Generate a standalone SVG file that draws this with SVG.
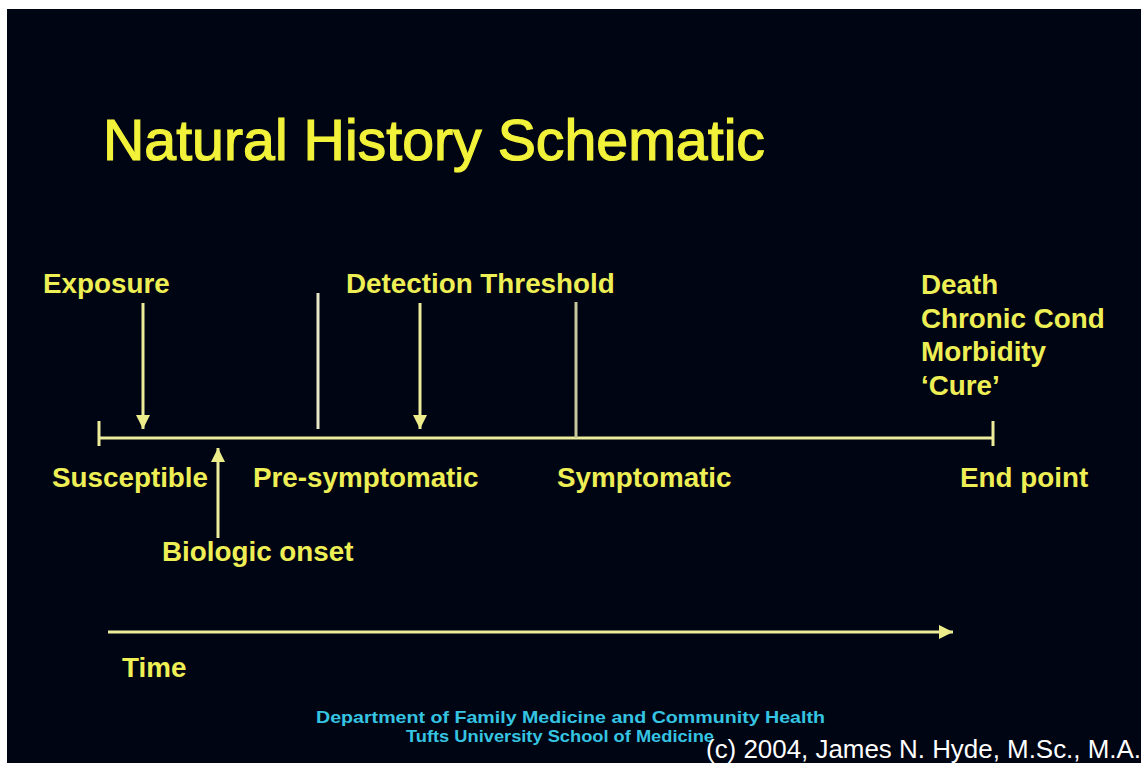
<svg xmlns="http://www.w3.org/2000/svg" width="1141" height="763" viewBox="0 0 1141 763">
<style>
.bg{fill:#000514}
.lbl{font-family:"Liberation Sans",Arial,sans-serif;font-weight:bold;font-size:27.8px;fill:#eeee55}
.title{font-family:"Liberation Sans",Arial,sans-serif;font-size:57px;fill:#f2f23a;stroke:#f2f23a;stroke-width:1.2}
.ln{stroke:#ecec9a;stroke-width:3;fill:none}
.foot{font-family:"Liberation Sans",Arial,sans-serif;font-weight:bold;font-size:17px;fill:#35c4e2}
.copy{font-family:"Liberation Sans",Arial,sans-serif;font-size:26px;fill:#ffffff}
</style>
<defs>
<marker id="ah" markerUnits="userSpaceOnUse" markerWidth="16" markerHeight="16" refX="14" refY="7" orient="auto">
<path d="M0,0 L14,7 L0,14 Z" fill="#ecec8a"/>
</marker>
</defs>
<rect width="1141" height="763" fill="#ffffff"/>
<rect class="bg" x="7" y="9" width="1134" height="754"/>
<g id="title"><text class="title" x="103" y="160" textLength="662" lengthAdjust="spacingAndGlyphs">Natural History Schematic</text></g>
<g id="connectors">
<line class="ln" x1="99" y1="438" x2="993" y2="438"/>
<line class="ln" x1="99" y1="421" x2="99" y2="446"/>
<line class="ln" x1="993" y1="421" x2="993" y2="446"/>
<line class="ln" x1="143" y1="303" x2="143" y2="429" marker-end="url(#ah)"/>
<line class="ln" x1="318" y1="293" x2="318" y2="429" style="stroke:#e8e8c8"/>
<line class="ln" x1="420" y1="303" x2="420" y2="429" marker-end="url(#ah)"/>
<line class="ln" x1="576" y1="302" x2="576" y2="438" style="stroke:#c8c89a"/>
<line class="ln" x1="218" y1="538" x2="218" y2="448" marker-end="url(#ah)"/>
<line class="ln" x1="108" y1="632" x2="953" y2="632" marker-end="url(#ah)"/>
</g>
<g id="exposure"><text class="lbl" x="43" y="293">Exposure</text></g>
<g id="detection"><text class="lbl" x="346" y="293">Detection Threshold</text></g>
<g id="endpoints">
<text class="lbl" x="921" y="294">Death</text>
<text class="lbl" x="921" y="328">Chronic Cond</text>
<text class="lbl" x="921" y="361">Morbidity</text>
<text class="lbl" x="921" y="395">‘Cure’</text>
</g>
<g id="susceptible"><text class="lbl" x="52" y="487">Susceptible</text></g>
<g id="presymptomatic"><text class="lbl" x="253" y="487">Pre-symptomatic</text></g>
<g id="symptomatic"><text class="lbl" x="557" y="487">Symptomatic</text></g>
<g id="endpoint"><text class="lbl" x="960" y="487">End point</text></g>
<g id="biologic"><text class="lbl" x="162" y="561">Biologic onset</text></g>
<g id="time"><text class="lbl" x="122" y="677">Time</text></g>
<g id="footer">
<text class="foot" x="316" y="723" textLength="509" lengthAdjust="spacingAndGlyphs">Department of Family Medicine and Community Health</text>
<text class="foot" x="406" y="742" textLength="308" lengthAdjust="spacingAndGlyphs">Tufts University School of Medicine</text>
<text class="copy" x="706" y="758" textLength="435" lengthAdjust="spacingAndGlyphs">(c) 2004, James N. Hyde, M.Sc., M.A.</text>
</g>
</svg>
